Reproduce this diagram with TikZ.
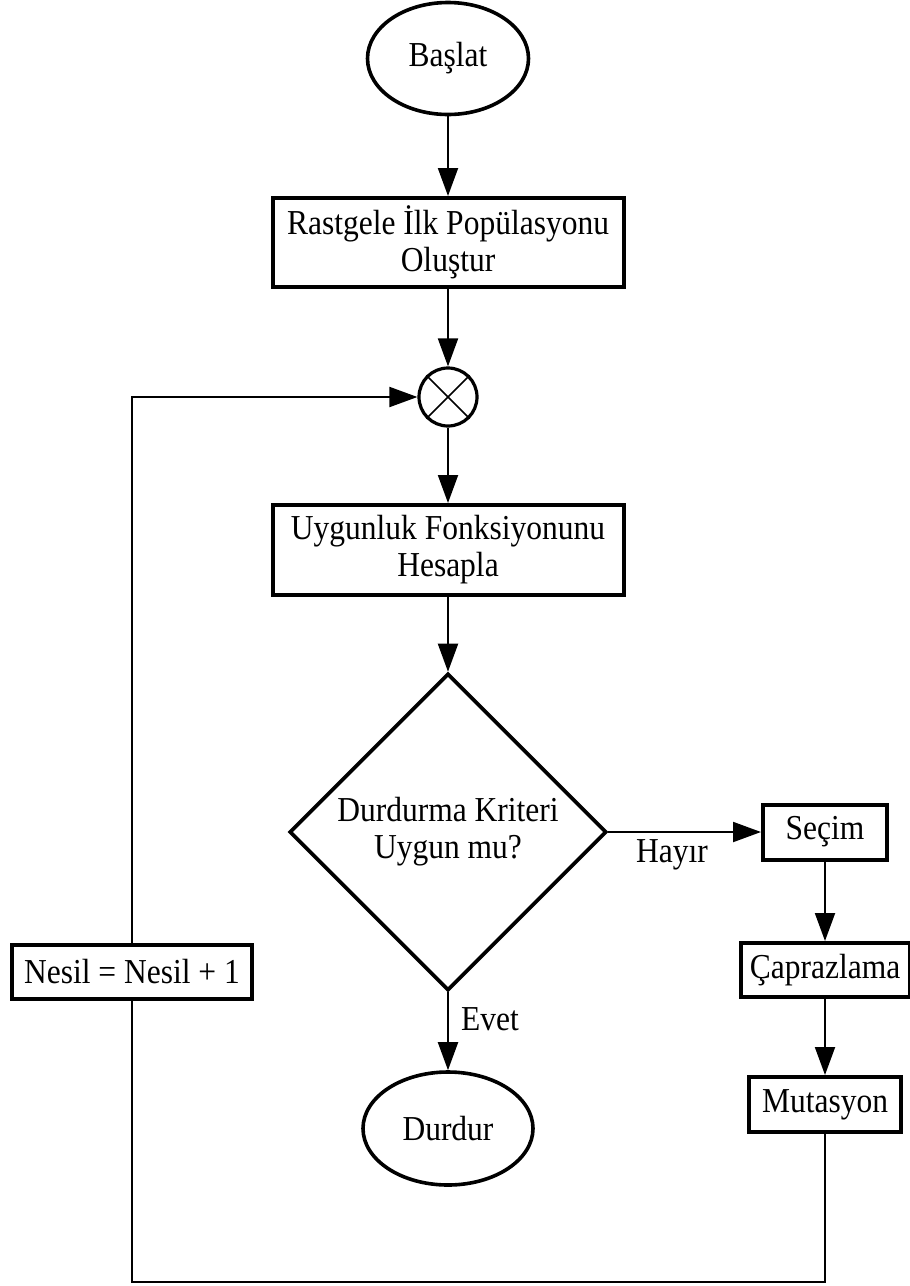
\documentclass[tikz,border=0pt]{standalone}
\usepackage{fontspec}
\setmainfont{Liberation Serif}[FakeStretch=0.9]
\usetikzlibrary{shapes.geometric,arrows.meta}
\tikzset{
  txt/.style={font=\fontsize{17.5}{18.5}\selectfont},
  boxnode/.style={txt,draw,line width=2pt,rectangle,align=center,inner sep=0pt,fill=white},
  termnode/.style={txt,draw,line width=1.8pt,ellipse,inner sep=0pt,fill=white},
  decnode/.style={txt,draw,line width=1.8pt,diamond,aspect=1,inner sep=0pt,align=center,minimum width=158.5pt,minimum height=158.5pt},
  sumnode/.style={draw,line width=1.6pt,circle,minimum size=29pt,inner sep=0pt,fill=white},
  conn/.style={line width=1pt},
  arr/.style={conn,-{Triangle[length=14pt,width=10pt]}},
  lbl/.style={txt,inner sep=0pt}
}
\begin{document}
\begin{tikzpicture}[x=0.5pt,y=-0.5pt]
\useasboundingbox (0,0) rectangle (910,1286);
\fill[white] (0,0) rectangle (910,1286);

\node[termnode,minimum width=80.5pt,minimum height=56pt] (start) at (448,58.5) {Başlat};
\node[boxnode,minimum width=175.5pt,minimum height=44.5pt] (init) at (448,242.5) {Rastgele İlk Popülasyonu\\Oluştur};
\node[sumnode] (sum) at (448,397) {};
\draw[line width=0.8pt] (sum.north west) -- (sum.south east);
\draw[line width=0.8pt] (sum.north east) -- (sum.south west);
\node[boxnode,minimum width=175.5pt,minimum height=45pt] (fit) at (448,550) {Uygunluk Fonksiyonunu\\Hesapla};
\node[decnode] (dec) at (448,832) {Durdurma Kriteri\\Uygun mu?};
\node[boxnode,minimum width=62pt,minimum height=27.5pt] (sel) at (825,832) {Seçim};
\node[boxnode,minimum width=84.5pt,minimum height=27pt] (cross) at (825,970) {Çaprazlama};
\node[boxnode,minimum width=76pt,minimum height=27.5pt] (mut) at (825,1104.5) {Mutasyon};
\node[boxnode,minimum width=120pt,minimum height=27pt] (gen) at (132,972) {Nesil = Nesil + 1};
\node[termnode,minimum width=85pt,minimum height=56.5pt] (stop) at (448,1128.5) {Durdur};

\coordinate (br) at (825,1282);
\coordinate (bl) at (132,1282);

\draw[arr] (start) -- (init);
\draw[arr] (init) -- (sum);
\draw[arr] (sum) -- (fit);
\draw[arr] (fit) -- (dec.north);
\draw[arr] (dec.east) -- (sel.west);
\draw[arr] (sel) -- (cross);
\draw[arr] (cross) -- (mut);
\draw[arr] (dec.south) -- (stop);
\draw[conn] (mut.south) -- (br) -- (bl) -- (gen.south);
\draw[arr] (gen.north) |- (sum.west);

\node[lbl] (hayir) at (672,855) {Hayır};
\node[lbl] (evet) at (490,1019) {Evet};
\end{tikzpicture}
\end{document}
